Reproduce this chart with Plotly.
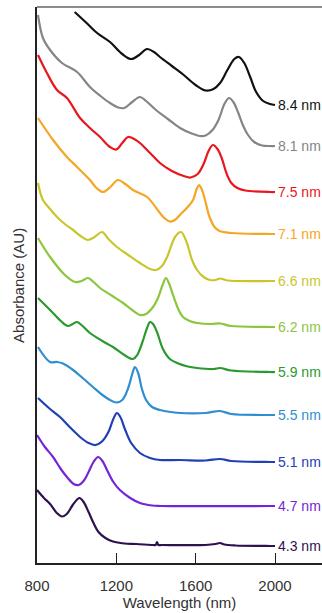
import plotly.graph_objects as go

# Absorption spectra of PbS quantum dots (stacked, arbitrary offsets), labelled by particle size
sizes = ["8.4 nm", "8.1 nm", "7.5 nm", "7.1 nm", "6.6 nm", "6.2 nm",
         "5.9 nm", "5.5 nm", "5.1 nm", "4.7 nm", "4.3 nm"]
colors = ["#111111", "#858585", "#e8161e", "#f5a623", "#c9c62c", "#8cc63f",
          "#2a9a2e", "#2e8fd0", "#2140b8", "#7426d6", "#2e1250"]

wl_84 = [990, 1050, 1103, 1168, 1230, 1275, 1315, 1355, 1390, 1420, 1480, 1540, 1600, 1650, 1690, 1723,
         1760, 1795, 1818, 1845, 1875, 1905, 1940, 1975, 2000]
ab_84 = [11.02, 10.80, 10.60, 10.42, 10.18, 10.08, 10.16, 10.28, 10.22, 10.12, 9.94, 9.76, 9.56, 9.45, 9.48, 9.60,
         9.86, 10.08, 10.12, 10.00, 9.72, 9.42, 9.24, 9.18, 9.16]

wl_81 = [805, 830, 866, 926, 1002, 1067, 1120, 1168, 1210, 1240, 1280, 1319, 1350, 1400, 1460, 1521, 1580,
         1620, 1650, 1685, 1715, 1745, 1768, 1790, 1815, 1840, 1864, 1895, 1935, 1975, 2000]
ab_81 = [10.96, 10.50, 10.26, 10.00, 9.82, 9.52, 9.34, 9.20, 9.11, 9.10, 9.22, 9.32, 9.24, 9.06, 8.88, 8.70, 8.59,
         8.54, 8.55, 8.66, 8.86, 9.18, 9.30, 9.22, 9.00, 8.74, 8.56, 8.42, 8.35, 8.34, 8.34]

wl_75 = [805, 850, 901, 951, 1017, 1067, 1118, 1168, 1200, 1230, 1259, 1290, 1319, 1370, 1420, 1480, 1540,
         1575, 1610, 1640, 1665, 1687, 1710, 1733, 1755, 1780, 1810, 1850, 1975, 2000]
ab_75 = [10.16, 9.80, 9.46, 9.30, 8.90, 8.70, 8.52, 8.32, 8.27, 8.40, 8.52, 8.48, 8.40, 8.20, 8.00, 7.84, 7.74,
         7.71, 7.78, 7.98, 8.24, 8.36, 8.28, 8.08, 7.80, 7.60, 7.50, 7.45, 7.42, 7.42]

wl_71 = [805, 881, 951, 1002, 1067, 1100, 1133, 1170, 1208, 1245, 1284, 1355, 1420, 1445, 1470, 1495, 1525,
         1560, 1587, 1605, 1617, 1630, 1647, 1670, 1695, 1720, 1780, 1975, 2000]
ab_71 = [8.90, 8.46, 8.12, 7.92, 7.66, 7.50, 7.42, 7.52, 7.66, 7.58, 7.46, 7.32, 7.00, 6.89, 6.83, 6.86, 6.98,
         7.12, 7.26, 7.48, 7.56, 7.48, 7.26, 6.92, 6.72, 6.64, 6.60, 6.58, 6.58]

wl_66 = [805, 830, 866, 901, 940, 982, 1020, 1057, 1090, 1128, 1160, 1203, 1260, 1319, 1370, 1400, 1430,
         1456, 1496, 1526, 1556, 1580, 1607, 1640, 1672, 1700, 1723, 1760, 1975, 2000]
ab_66 = [7.60, 7.26, 7.08, 6.92, 6.78, 6.66, 6.54, 6.46, 6.52, 6.62, 6.48, 6.32, 6.16, 6.00, 5.88, 5.86, 5.94,
         6.12, 6.52, 6.62, 6.40, 6.08, 5.86, 5.72, 5.66, 5.66, 5.69, 5.65, 5.64, 5.64]

wl_62 = [805, 866, 941, 992, 1025, 1057, 1085, 1118, 1180, 1234, 1280, 1319, 1350, 1385, 1410, 1435, 1450,
         1465, 1486, 1510, 1536, 1570, 1607, 1680, 1723, 1780, 1975, 2000]
ab_62 = [6.50, 6.12, 5.76, 5.62, 5.64, 5.70, 5.62, 5.50, 5.34, 5.20, 5.06, 4.96, 4.98, 5.12, 5.30, 5.58, 5.70,
         5.60, 5.36, 5.10, 4.92, 4.84, 4.80, 4.78, 4.79, 4.74, 4.72, 4.72]

wl_59 = [805, 866, 920, 956, 980, 1002, 1030, 1067, 1130, 1183, 1240, 1284, 1305, 1330, 1355, 1370, 1385,
         1405, 1435, 1470, 1506, 1560, 1607, 1690, 1723, 1780, 1975, 2000]
ab_59 = [5.30, 5.06, 4.84, 4.74, 4.78, 4.82, 4.74, 4.60, 4.44, 4.32, 4.16, 4.08, 4.16, 4.40, 4.70, 4.82, 4.78,
         4.62, 4.28, 4.08, 4.00, 3.93, 3.90, 3.88, 3.90, 3.85, 3.82, 3.82]

wl_55 = [805, 866, 901, 931, 982, 1030, 1082, 1130, 1168, 1200, 1230, 1260, 1280, 1294, 1310, 1329, 1350,
         1380, 1420, 1521, 1650, 1723, 1780, 1975, 2000]
ab_55 = [4.32, 4.02, 4.02, 3.99, 3.86, 3.70, 3.52, 3.36, 3.26, 3.21, 3.26, 3.50, 3.78, 3.92, 3.80, 3.48, 3.26,
         3.12, 3.06, 3.00, 3.00, 3.04, 2.98, 2.96, 2.96]

wl_51 = [805, 860, 916, 970, 1017, 1060, 1095, 1130, 1160, 1185, 1203, 1220, 1245, 1275, 1319, 1370, 1420,
         1521, 1650, 1723, 1780, 1975, 2000]
ab_51 = [3.30, 3.10, 2.92, 2.70, 2.52, 2.40, 2.36, 2.44, 2.62, 2.88, 3.00, 2.92, 2.66, 2.40, 2.20, 2.10, 2.06,
         2.06, 2.05, 2.08, 2.04, 2.02, 2.02]

wl_47 = [800, 840, 881, 920, 951, 985, 1010, 1035, 1060, 1085, 1108, 1130, 1153, 1185, 1218, 1270, 1319,
         1380, 1420, 1975, 2000]
ab_47 = [2.56, 2.32, 2.12, 1.88, 1.72, 1.58, 1.56, 1.64, 1.82, 2.02, 2.12, 2.04, 1.86, 1.62, 1.46, 1.30, 1.20,
         1.15, 1.14, 1.14, 1.14]

wl_43 = [800, 835, 866, 900, 926, 950, 980, 1005, 1015, 1035, 1060, 1085, 1110, 1145, 1183, 1240, 1300,
         1385, 1398, 1405, 1412, 1430, 1650, 1700, 1723, 1745, 1800, 1975, 2000]
ab_43 = [1.46, 1.30, 1.18, 1.00, 0.93, 0.98, 1.16, 1.28, 1.30, 1.22, 1.02, 0.80, 0.62, 0.50, 0.43, 0.39, 0.38,
         0.36, 0.36, 0.42, 0.36, 0.36, 0.36, 0.38, 0.40, 0.37, 0.35, 0.34, 0.34]

wavelengths = [wl_84, wl_81, wl_75, wl_71, wl_66, wl_62, wl_59, wl_55, wl_51, wl_47, wl_43]
absorbances = [ab_84, ab_81, ab_75, ab_71, ab_66, ab_62, ab_59, ab_55, ab_51, ab_47, ab_43]

x_ticks = [800, 1200, 1600, 2000]

FONT = "Liberation Sans, Arial, sans-serif"
TEXT = "#333333"

fig = go.Figure()
for name, color, wl, ab in zip(sizes, colors, wavelengths, absorbances):
    fig.add_trace(go.Scatter(
        x=wl, y=ab, mode="lines", name=name,
        line=dict(color=color, width=2.2, shape="spline", smoothing=1.0),
        showlegend=False, hoverinfo="skip",
    ))
    fig.add_annotation(
        x=2005, y=ab[-1], text=name, showarrow=False,
        xanchor="left", yanchor="middle", xref="x", yref="y",
        font=dict(family=FONT, size=14, color=color),
    )

fig.add_annotation(
    text="Absorbance (AU)", textangle=-90, showarrow=False,
    xref="paper", yref="paper", x=-0.067, y=0.5,
    xanchor="center", yanchor="middle",
    font=dict(family=FONT, size=15, color=TEXT),
)

# frame line along the top of the plot area
fig.add_shape(type="line", xref="paper", yref="paper", x0=0, x1=1, y0=1, y1=1,
              line=dict(color="#666666", width=1.5))

fig.update_xaxes(
    range=[800, 2237], tickvals=x_ticks, ticktext=[str(t) for t in x_ticks],
    ticks="inside", ticklen=10, tickwidth=1.3, tickcolor="#222222",
    ticklabelstandoff=8,
    showline=True, linecolor="#222222", linewidth=1.5,
    showgrid=False, zeroline=False,
    tickfont=dict(family=FONT, size=15, color=TEXT),
    title=dict(text="Wavelength (nm)", standoff=4,
               font=dict(family=FONT, size=15, color=TEXT)),
)
fig.update_yaxes(
    range=[0, 11.12], showticklabels=False, ticks="",
    showline=True, linecolor="#222222", linewidth=1.5,
    showgrid=False, zeroline=False,
)

fig.update_layout(
    width=322, height=613,
    margin=dict(l=37, r=0, t=7, b=50),
    paper_bgcolor="white", plot_bgcolor="white",
)

fig.write_html("out.html")
